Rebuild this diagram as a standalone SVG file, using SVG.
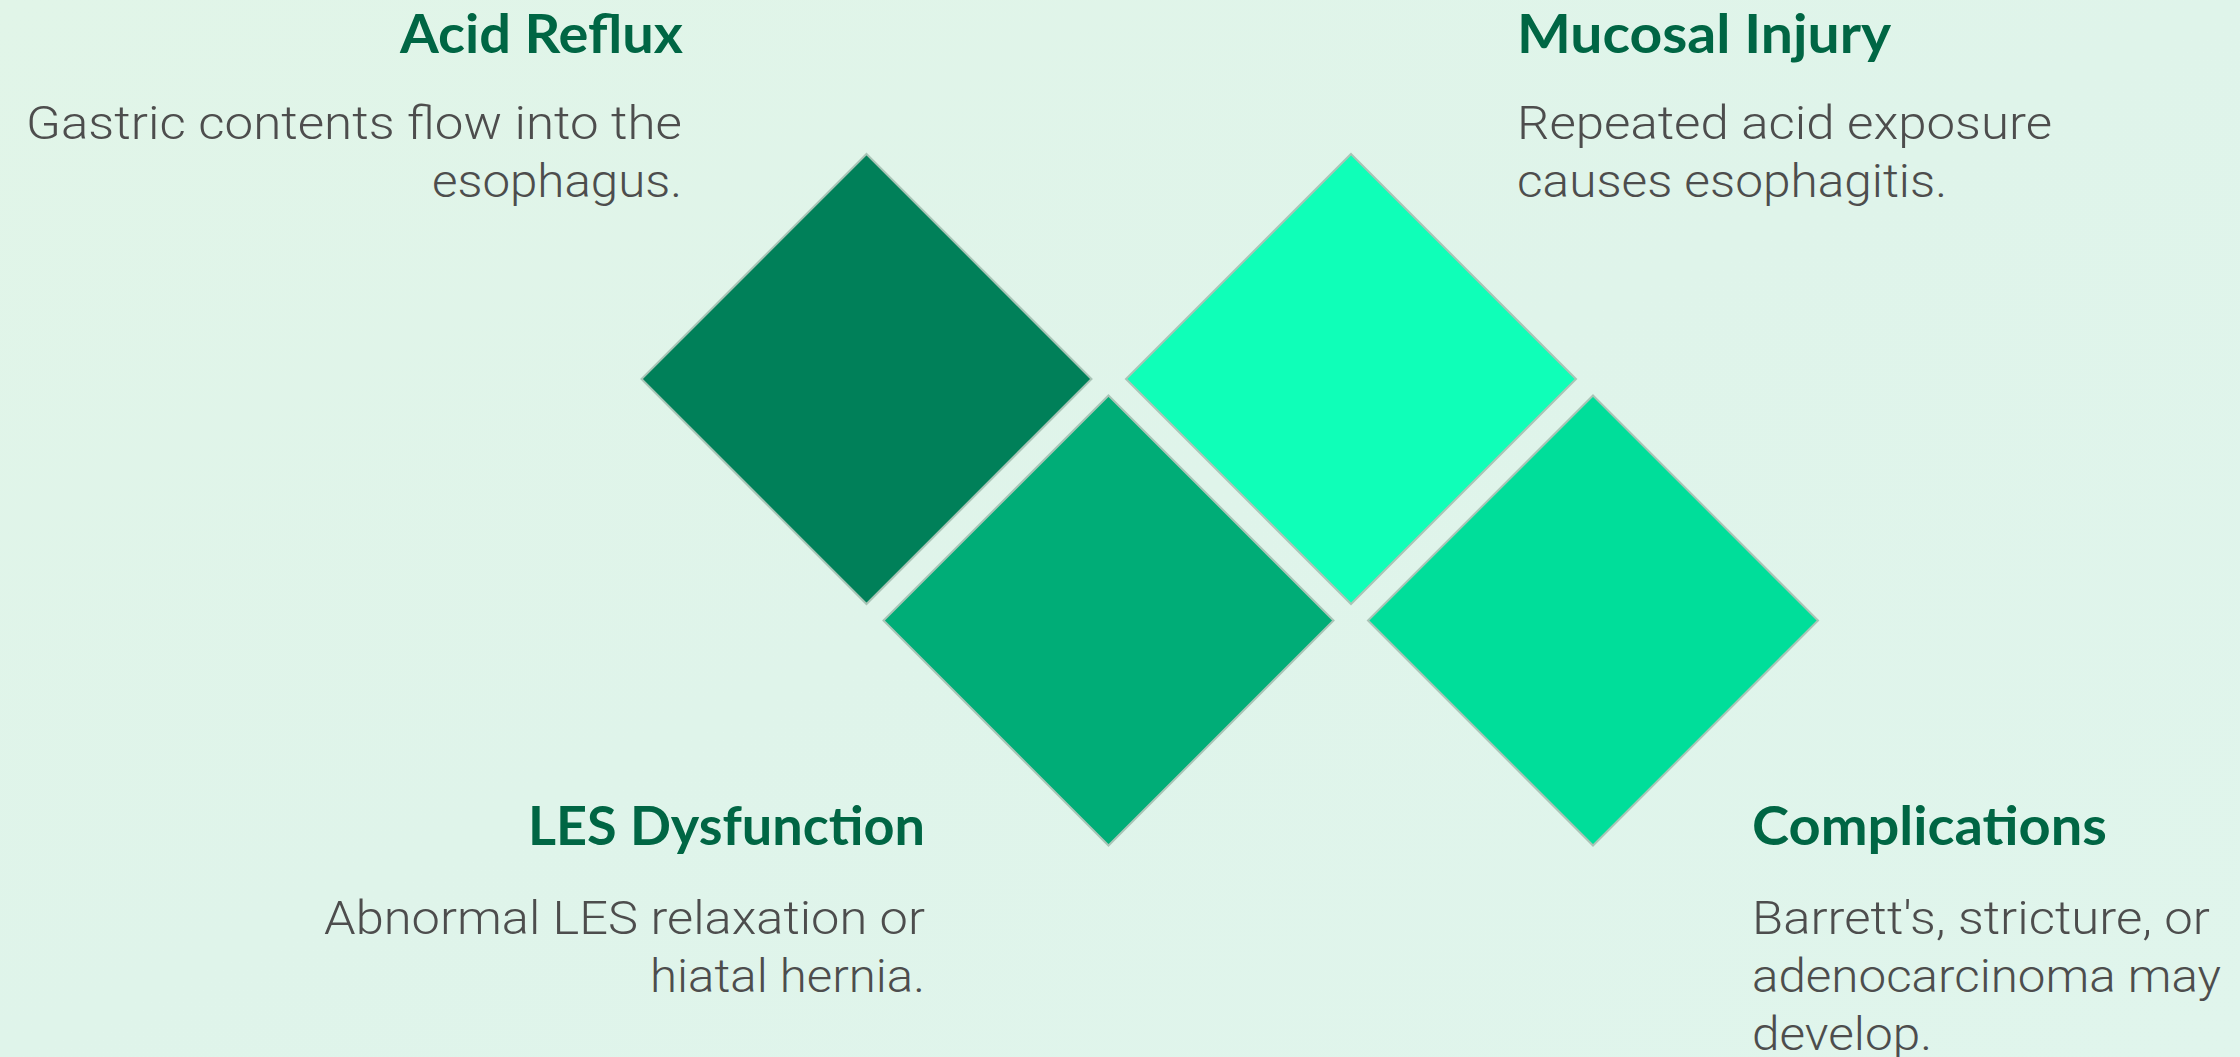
<svg xmlns="http://www.w3.org/2000/svg" width="2240" height="1057" viewBox="0 0 2240 1057">
<defs>
<linearGradient id="bg" x1="0" y1="0" x2="1" y2="1">
<stop offset="0" stop-color="#E1F5E8"/>
<stop offset="0.5" stop-color="#DFF4EA"/>
<stop offset="1" stop-color="#E0F5EC"/>
</linearGradient>
<style>
.title{font-family:Lato,"Open Sans","Liberation Sans",sans-serif;font-weight:700;font-size:54px;fill:#006644;}
.body{font-family:Roboto,Inter,"Liberation Sans",sans-serif;font-weight:300;font-size:46px;fill:#4d4d4d;}
.dia{stroke:#a9c4b6;stroke-width:2;stroke-linejoin:miter;}
.end{text-anchor:end;}
</style>
</defs>
<rect x="0" y="0" width="2240" height="1057" fill="url(#bg)"/>
<g id="connectors"></g>
<g id="node-acid-reflux">
<polygon class="dia" points="866.5,154 1091.5,379 866.5,604 641.5,379" fill="#008059"/>
<text class="title end" x="683" y="53" textLength="283" lengthAdjust="spacingAndGlyphs">Acid Reflux</text>
<text class="body end" x="682" y="139" textLength="656" lengthAdjust="spacingAndGlyphs">Gastric contents flow into the</text>
<text class="body end" x="682" y="197" textLength="250" lengthAdjust="spacingAndGlyphs">esophagus.</text>
</g>
<g id="node-les-dysfunction">
<polygon class="dia" points="1108.5,395.5 1333.5,620.5 1108.5,845.5 883.5,620.5" fill="#00AD77"/>
<text class="title end" x="925" y="845" textLength="397" lengthAdjust="spacingAndGlyphs">LES Dysfunction</text>
<text class="body end" x="925" y="934" textLength="601" lengthAdjust="spacingAndGlyphs">Abnormal LES relaxation or</text>
<text class="body end" x="925" y="992" textLength="275" lengthAdjust="spacingAndGlyphs">hiatal hernia.</text>
</g>
<g id="node-mucosal-injury">
<polygon class="dia" points="1351,154 1576,379 1351,604 1126,379" fill="#0FFFB8"/>
<text class="title" x="1517" y="53" textLength="374" lengthAdjust="spacingAndGlyphs">Mucosal Injury</text>
<text class="body" x="1517" y="139" textLength="535" lengthAdjust="spacingAndGlyphs">Repeated acid exposure</text>
<text class="body" x="1517" y="197" textLength="430" lengthAdjust="spacingAndGlyphs">causes esophagitis.</text>
</g>
<g id="node-complications">
<polygon class="dia" points="1593,395.5 1818,620.5 1593,845.5 1368,620.5" fill="#00DE9A"/>
<text class="title" x="1752" y="845" textLength="355" lengthAdjust="spacingAndGlyphs">Complications</text>
<text class="body" x="1752" y="934" textLength="458" lengthAdjust="spacingAndGlyphs">Barrett's, stricture, or</text>
<text class="body" x="1752" y="992" textLength="469" lengthAdjust="spacingAndGlyphs">adenocarcinoma may</text>
<text class="body" x="1752" y="1050" textLength="180" lengthAdjust="spacingAndGlyphs">develop.</text>
</g>
</svg>
